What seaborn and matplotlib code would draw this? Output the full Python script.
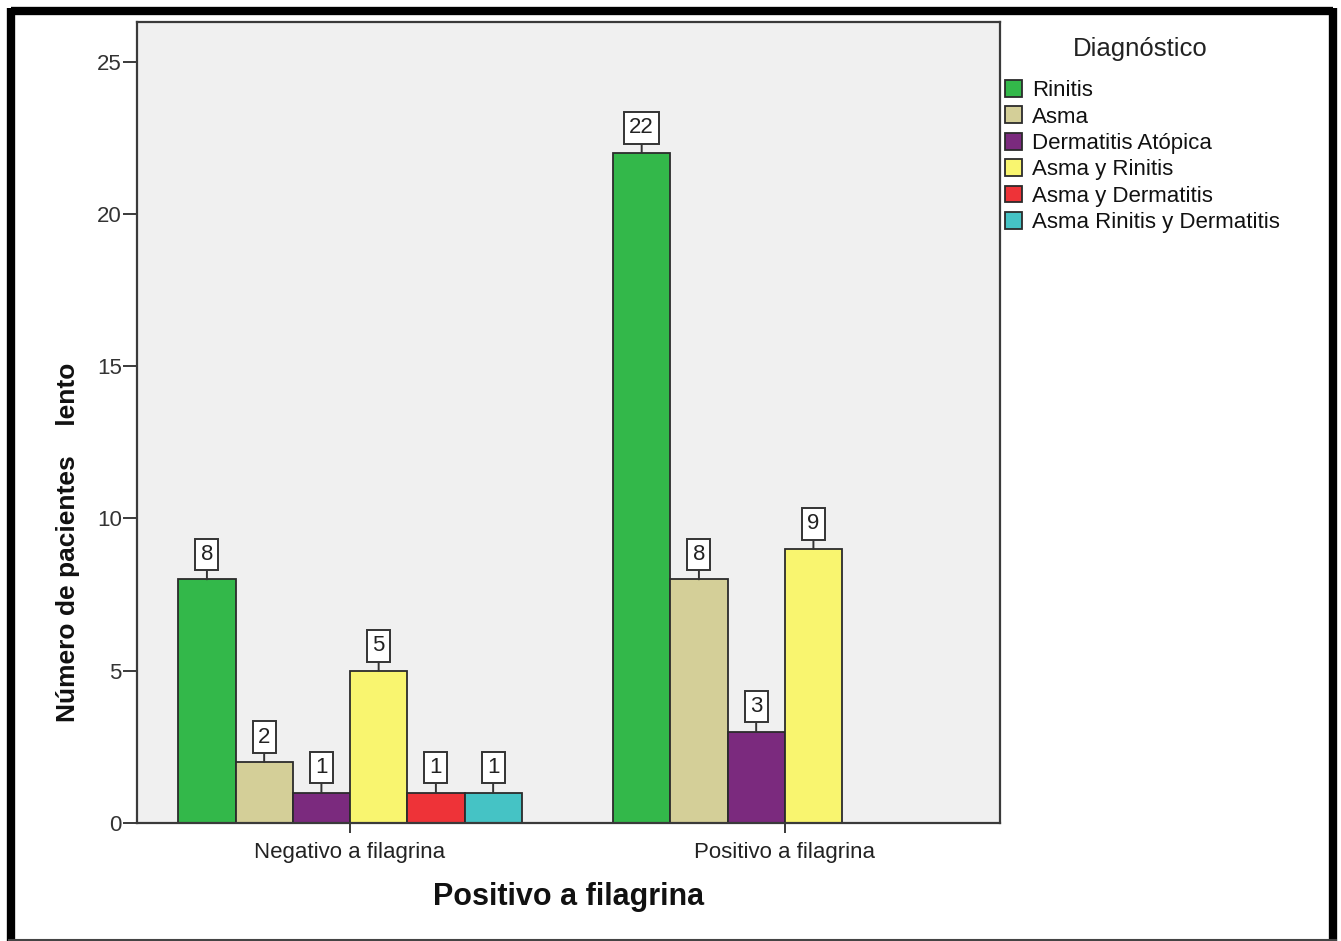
import matplotlib
matplotlib.use("Agg")
import matplotlib.pyplot as plt
from matplotlib.lines import Line2D
from matplotlib.patches import Patch
import seaborn as sns
import pandas as pd

# Counts of patients per diagnosis, split by filaggrin result
grupos = ["Negativo a filagrina", "Positivo a filagrina"]
diagnosticos = ["Rinitis", "Asma", "Dermatitis Atópica", "Asma y Rinitis",
                "Asma y Dermatitis", "Asma Rinitis y Dermatitis"]
negativos = [8, 2, 1, 5, 1, 1]
positivos = [22, 8, 3, 9, None, None]
colores = ["#33B84A", "#D4CF98", "#7B2A7E", "#F9F56F", "#EE3338", "#45C3C5"]
yticks = [0, 5, 10, 15, 20, 25]

rows = []
for grupo, valores in zip(grupos, [negativos, positivos]):
    for diag, v in zip(diagnosticos, valores):
        if v is not None:
            rows.append({"grupo": grupo, "diag": diag, "n": v})
df = pd.DataFrame(rows)

sns.set_theme(style="white")
plt.rcParams["font.family"] = ["Liberation Sans", "DejaVu Sans"]

fig = plt.figure(figsize=(13.41, 9.41), dpi=100)
W, H = 1341, 941
ax = fig.add_axes([137 / W, 1 - 823 / H, (1000 - 137) / W, (823 - 22) / H])

sns.barplot(data=df, x="grupo", y="n", hue="diag", order=grupos,
            hue_order=diagnosticos, palette=colores, width=0.79,
            edgecolor="#2b2b2b", linewidth=1.3, ax=ax, legend=False,
            errorbar=None, saturation=1)

ax.set_facecolor("#F0F0F0")
ax.set_xlim(-0.49, 1.495)
ax.set_ylim(0, 26.3)
ax.set_yticks(yticks)
for s in ax.spines.values():
    s.set_color("#3a3a3a")
    s.set_linewidth(1.6)

ax.tick_params(axis="y", direction="out", length=10, width=1.4, color="#3a3a3a",
               pad=1, labelsize=16, labelcolor="#333333", left=True)
ax.tick_params(axis="x", direction="out", length=7, width=1.4, color="#3a3a3a",
               pad=7, labelsize=16, labelcolor="#222222", bottom=True)

ax.set_xlabel("Positivo a filagrina", fontsize=22, fontweight="bold", labelpad=13,
              color="#111111")
ax.set_ylabel("Número de pacientes    lento", fontsize=19, fontweight="bold",
              color="#111111")
ax.yaxis.set_label_coords(-0.066, 0.35)

# Value boxes above each bar
for container in ax.containers:
    for bar in container:
        h = bar.get_height()
        if h is None or h != h or h <= 0:
            continue
        xc = bar.get_x() + bar.get_width() / 2
        ax.annotate(f"{int(h)}", xy=(xc, h), xytext=(0, 18),
                    textcoords="offset points", ha="center", va="center",
                    fontsize=16, color="#222222",
                    bbox=dict(boxstyle="square,pad=0.24", fc="white",
                              ec="#333333", lw=1.4),
                    arrowprops=dict(arrowstyle="-", color="#333333", lw=1.4,
                                    shrinkA=0, shrinkB=0))

# Legend
fig.text(1140 / W, 1 - 49 / H, "Diagnóstico", ha="center", va="center",
         fontsize=18.5, color="#222222")
handles = [Patch(facecolor=c, edgecolor="#2b2b2b", linewidth=1.3) for c in colores]
leg = fig.legend(handles, diagnosticos,
                 loc="upper left", bbox_to_anchor=(1005 / W, 1 - 80 / H),
                 frameon=False, fontsize=16,
                 handlelength=0.78, handleheight=0.78, handletextpad=0.45,
                 labelspacing=0.24, borderaxespad=0, borderpad=0)
for t in leg.get_texts():
    t.set_color("#111111")

# Outer frame
def fline(x0, y0, x1, y1, lw, c="black"):
    fig.add_artist(Line2D([x0 / W, x1 / W], [1 - y0 / H, 1 - y1 / H],
                          transform=fig.transFigure, color=c, lw=lw,
                          solid_capstyle="butt"))

fline(11, 11, 1333, 11, 6)      # top
fline(11, 8, 11, 941, 6)        # left
fline(1333, 8, 1333, 941, 6)    # right
fline(8, 939.5, 1337, 939.5, 1.5, "#444444")  # bottom

fig.savefig("out.png", dpi=100, facecolor="white")
